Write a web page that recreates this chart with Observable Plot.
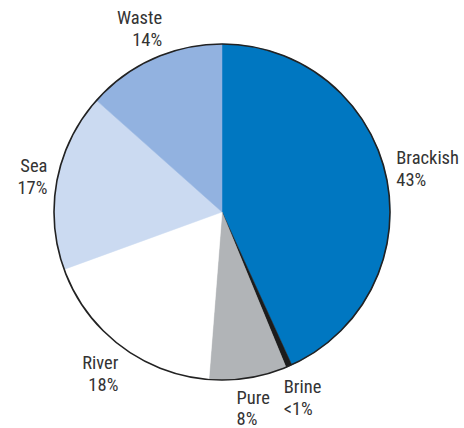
<!DOCTYPE html>
<html>
<head>
<meta charset="utf-8">
<script src="https://cdn.jsdelivr.net/npm/d3@7"></script>
<script src="https://cdn.jsdelivr.net/npm/@observablehq/plot@0.6"></script>
<style>
  html, body { margin: 0; padding: 0; background: #fff; }
  #chart { width: 464px; height: 428px; }
</style>
</head>
<body>
<div id="chart"></div>
<script>
// ---- Data ----
const categories = ["Brackish", "Brine", "Pure", "River", "Sea", "Waste"];
const values = [43.4, 0.6, 7.5, 18.3, 17.2, 13.5];
const percentLabels = ["43%", "<1%", "8%", "18%", "17%", "14%"];
const colors = ["#0077c1", "#1c1c1c", "#b1b4b7", "#ffffff", "#cbdaf1", "#92b2e0"];

// ---- Layout ----
const W = 464, H = 428;
const R = 168; // pie radius in data units (1 unit = 1 px)
const fontFamily = "'Roboto Condensed', 'Liberation Sans Narrow', sans-serif";
const fontSize = 18.5, fontWeight = 400, lineHeight = 1.18;

const ctx = document.createElement("canvas").getContext("2d");
ctx.font = `${fontWeight} ${fontSize}px ${fontFamily}`;
const textW = t => ctx.measureText(t).width;

const data = categories.map((c, i) => ({category: c, value: values[i], label: percentLabels[i], color: colors[i]}));
const arcs = d3.pie().sort(null).value(d => d.value)(data);

// label anchors placed just outside the pie along each slice's mid-angle
const labels = arcs.map(a => {
  const mid = (a.startAngle + a.endAngle) / 2;
  const s = Math.sin(mid), c = Math.cos(mid);
  const halfW = Math.max(textW(a.data.category), textW(a.data.label)) / 2;
  const halfH = fontSize * lineHeight;
  const r = R + 7 + halfW * Math.abs(s) + halfH * 0.92 * Math.abs(c);
  const side = s >= 0 ? 1 : -1;
  return {
    x: r * s - side * halfW,
    y: -r * c,
    anchor: side > 0 ? "start" : "end",
    text: a.data.category + "\n" + a.data.label
  };
});

function pieMark(index, scales) {
  const cx = scales.x(0), cy = scales.y(0);
  const r = Math.abs(scales.x(R) - scales.x(0));
  const arc = d3.arc().innerRadius(0).outerRadius(r);
  const g = d3.create("svg:g").attr("transform", `translate(${cx},${cy})`);
  g.selectAll("path")
    .data(arcs)
    .join("path")
    .attr("d", arc)
    .attr("fill", d => d.data.color)
    .attr("stroke", d => d.data.color)
    .attr("stroke-width", 0.5);
  g.append("circle")
    .attr("r", r)
    .attr("fill", "none")
    .attr("stroke", "#222")
    .attr("stroke-width", 1.6);
  return g.node();
}

const textOpts = {x: "x", y: "y", text: "text", fontSize, fontWeight, lineHeight, fill: "#333"};

const chart = Plot.plot({
  width: W,
  height: H,
  margin: 0,
  x: {domain: [-222, 242], range: [0, W], axis: null},
  y: {domain: [-212, 216], range: [0, H], axis: null},
  style: {fontFamily, background: "#fff"},
  marks: [
    pieMark,
    Plot.text(labels.filter(d => d.anchor === "start"), {...textOpts, textAnchor: "start"}),
    Plot.text(labels.filter(d => d.anchor === "end"), {...textOpts, textAnchor: "end"})
  ]
});

document.getElementById("chart").appendChild(chart);
</script>
</body>
</html>
